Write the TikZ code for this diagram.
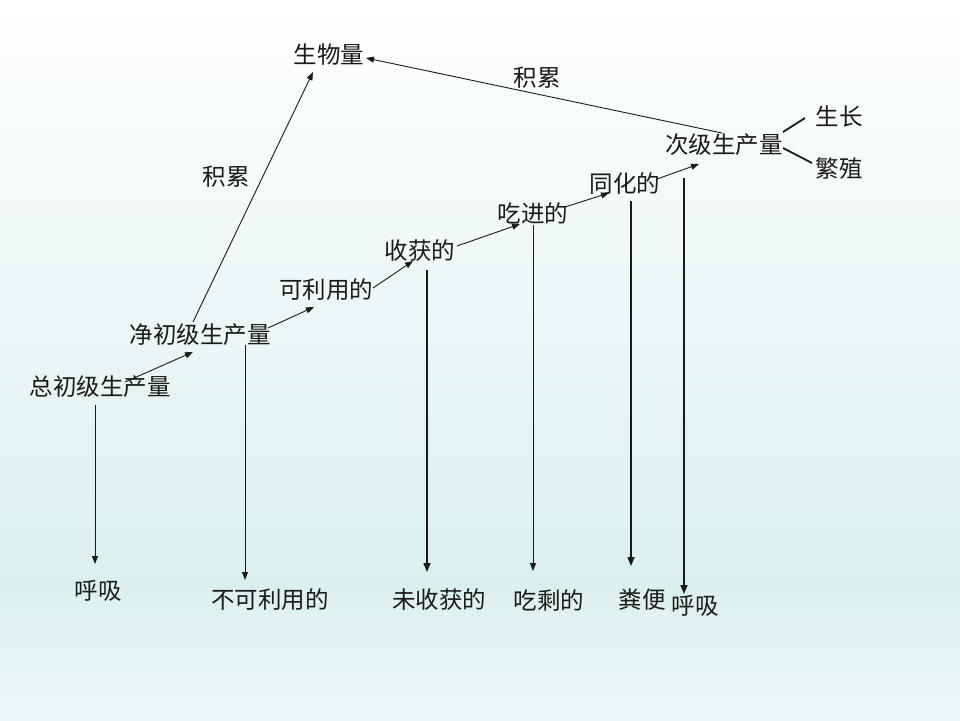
\documentclass[tikz,border=0pt]{standalone}
\usepackage{fontspec}
\newfontfamily\cjk{Noto Sans CJK SC}
\usetikzlibrary{arrows.meta}
\definecolor{bgmid}{HTML}{DCEFEF}
\definecolor{bgbot}{HTML}{EEF7F8}
\definecolor{ink}{HTML}{1A1A1A}
\begin{document}
\begin{tikzpicture}[x=1pt,y=-1pt,
  lbl/.style={font=\cjk\fontsize{23.5}{23.5}\selectfont, text=ink, inner sep=0pt, anchor=center},
  arr/.style={draw=ink, line width=0.9pt, -{Triangle[length=8pt,width=6pt]}},
  arrthick/.style={draw=ink, line width=1.6pt, -{Triangle[length=9pt,width=7pt]}},
  twig/.style={draw=ink, line width=1.8pt}]
\useasboundingbox (0,0) rectangle (960,720);
\shade[top color=white, bottom color=bgmid] (0,0) rectangle (960,585);
\shade[top color=bgmid, bottom color=bgbot] (0,585) rectangle (960,720);

% nodes
\node[lbl] (swl) at (329,55) {生物量};
\node[lbl] (jl1) at (537,78) {积累};
\node[lbl] (jl2) at (226,177) {积累};
\node[lbl] (cj) at (724,145) {次级生产量};
\node[lbl] (sz) at (839,116) {生长};
\node[lbl] (fz) at (839,169) {繁殖};
\node[lbl] (th) at (625,184) {同化的};
\node[lbl] (cjd) at (533,213) {吃进的};
\node[lbl] (sh) at (420,251) {收获的};
\node[lbl] (kly) at (326,290) {可利用的};
\node[lbl] (jcj) at (200,335) {净初级生产量};
\node[lbl] (zcj) at (100,387) {总初级生产量};
\node[lbl] (hx1) at (98,591) {呼吸};
\node[lbl] (bkl) at (270,600) {不可利用的};
\node[lbl] (wsh) at (439,600) {未收获的};
\node[lbl] (csd) at (549,600) {吃剩的};
\node[lbl] (fb) at (642,600) {粪便};
\node[lbl] (hx2) at (695,606) {呼吸};

% connector end points
\coordinate (zcjO) at (125,382);  \coordinate (jcjI) at (193,352);
\coordinate (jcjO) at (268,328);  \coordinate (klyI) at (314,307);
\coordinate (klyO) at (373,288);  \coordinate (shI) at (413,261);
\coordinate (shO) at (457,246);   \coordinate (cjdI) at (520,224);
\coordinate (cjdO) at (565,207);  \coordinate (thI) at (609,193);
\coordinate (thO) at (657,179);   \coordinate (cjI) at (699,164);
\coordinate (cjT) at (722,133);   \coordinate (swlR) at (366,58);
\coordinate (jcjT) at (193,322);  \coordinate (swlB) at (313,72);
\coordinate (cjR1) at (783,132);  \coordinate (szL) at (805,118);
\coordinate (cjR2) at (783,148);  \coordinate (fzL) at (812,163);
\coordinate (zcjB) at (95,405);   \coordinate (hx1T) at (95,564);
\coordinate (jcjB) at (245,345);  \coordinate (bklT) at (245,580);
\coordinate (shB) at (427,270);   \coordinate (wshT) at (427,572);
\coordinate (cjdB) at (533,225);  \coordinate (csdT) at (533,571);
\coordinate (thB) at (631,201);   \coordinate (fbT) at (631,566);
\coordinate (cjB) at (684,178);   \coordinate (hx2T) at (684,594);

% chain arrows
\draw[arr] (zcjO) -- (jcjI);
\draw[arr] (jcjO) -- (klyI);
\draw[arr] (klyO) -- (shI);
\draw[arr] (shO) -- (cjdI);
\draw[arr] (cjdO) -- (thI);
\draw[arr] (thO) -- (cjI);
\draw[arr] (cjT) -- (swlR);
\draw[arr] (jcjT) -- (swlB);
\draw[twig] (cjR1) -- (szL);
\draw[twig] (cjR2) -- (fzL);

% downward arrows
\draw[arr] (zcjB) -- (hx1T);
\draw[arr] (jcjB) -- (bklT);
\draw[arrthick] (shB) -- (wshT);
\draw[arr] (cjdB) -- (csdT);
\draw[arrthick] (thB) -- (fbT);
\draw[arrthick] (cjB) -- (hx2T);
\end{tikzpicture}
\end{document}
